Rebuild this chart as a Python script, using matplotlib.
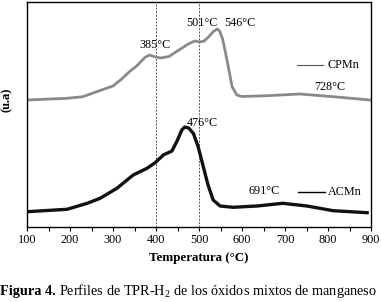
import matplotlib
matplotlib.use("Agg")
from matplotlib import pyplot as plt
from matplotlib.ticker import MultipleLocator

plt.rcParams['font.family'] = ['Liberation Serif', 'DejaVu Serif']
plt.rcParams['mathtext.fontset'] = 'custom'
plt.rcParams['mathtext.rm'] = 'Liberation Serif'

# CPMn profile (temperature in C, signal in arbitrary units)
cpmn_t = [100, 193, 230, 262, 300, 320, 340, 355, 374, 385, 395, 410, 430,
          456, 475, 490, 502, 512, 522, 533, 542, 548, 555, 565, 577, 588,
          600, 658, 735, 812, 898]
cpmn_y = [127, 128.7, 130.3, 135.3, 141, 148, 156, 161, 169.5, 172, 170.5,
          169, 170.5, 177.7, 183, 186, 185, 186, 190, 195.3, 198, 196, 188,
          167, 140.3, 132, 130.5, 131.3, 133, 130.3, 127]

# ACMn profile
acmn_t = [100, 193, 240, 270, 309, 347, 379, 398, 417, 437, 449, 460, 467,
          476, 487, 498, 510, 521, 533, 549, 579, 635, 695, 751, 812, 891]
acmn_y = [15.3, 17.7, 23.7, 28.7, 38.7, 52, 58.7, 64.3, 72, 76, 86, 97,
          100, 99, 93.5, 80.3, 60.3, 42, 27, 21, 19.7, 21, 23.7, 21, 16.3, 14.3]

peak_labels = [("385°C", 398, 182), ("501°C", 507, 204), ("546°C", 595, 204),
               ("728°C", 805, 140), ("476°C", 509, 104), ("691°C", 651, 36)]

fig = plt.figure(figsize=(3.81, 3.02), dpi=100)
ax = fig.add_axes([27 / 381, 75 / 302, 344 / 381, 225 / 302])

ax.plot(cpmn_t, cpmn_y, color='#8a8a8a', lw=2.0, solid_joinstyle='round')
ax.plot(acmn_t, acmn_y, color='#111111', lw=2.4, solid_joinstyle='round')

for xv in (400, 500):
    ax.axvline(xv, color='#555555', lw=0.7, ls=(0, (2, 1.5)), zorder=0)

for txt, tx, ty in peak_labels:
    ax.text(tx, ty, txt, ha='center', va='center', fontsize=8.7)

# legend-style labels drawn next to each curve
ax.plot([728, 788], [162, 162], color='#555555', lw=0.8)
ax.text(798, 162, "CPMn", ha='left', va='center', fontsize=8.7)
ax.plot([730, 793], [35, 35], color='black', lw=1.0)
ax.text(800, 35, "ACMn", ha='left', va='center', fontsize=8.7)

ax.set_xlim(100, 900)
ax.set_ylim(0, 225)
ax.xaxis.set_major_locator(MultipleLocator(100))
ax.xaxis.set_minor_locator(MultipleLocator(50))
ax.tick_params(axis='x', which='both', direction='out', length=3, width=0.8,
               labelsize=8.8, pad=2)
ax.set_yticks([])
for s in ax.spines.values():
    s.set_linewidth(1.0)

ax.set_xlabel("Temperatura (°C)", fontsize=9.4, fontweight='bold', labelpad=4)
fig.text(0.018, 0.67, "(u.a)", rotation=90, ha='center', va='center',
         fontsize=9, fontweight='bold')

# caption: bold prefix followed by normal text
cap_y = 0.036
t1 = fig.text(0.0, cap_y, "Figura 4.", ha='left', va='center',
              fontsize=10.3, fontweight='bold')
fig.canvas.draw()
bb = t1.get_window_extent()
fig.text(bb.x1 / fig.bbox.width + 0.008, cap_y,
         "Perfiles de TPR-H$_2$ de los óxidos mixtos de manganeso",
         ha='left', va='center', fontsize=10.3)

fig.savefig("out.png", dpi=100)
